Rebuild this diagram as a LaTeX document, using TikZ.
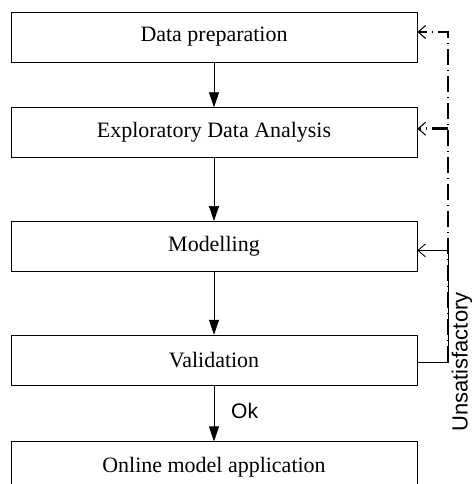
\documentclass[tikz,border=0pt]{standalone}
\usepackage{fontspec}
\setmainfont{Liberation Serif}
\newfontfamily\arialfont{Liberation Sans}
\usetikzlibrary{positioning,arrows.meta}

\tikzset{
	stage/.style={draw, thin, minimum width=8.12cm, minimum height=1cm, inner sep=0pt, font=\fontsize{12.5}{15}\selectfont},
	flow/.style={-{Triangle[length=3mm,width=2mm]}, thin},
	loopback/.style={-{Straight Barb[length=1.5mm,width=2.6mm,line width=0.5pt]}, thin},
	retry/.style={-{Straight Barb[length=1.5mm,width=2.6mm,line width=0.6pt]}, line width=1.6pt, dash pattern=on 0.32cm off 0.1cm on 0.02cm off 0.1cm}
}

\begin{document}
\begin{tikzpicture}
\useasboundingbox (0,0) rectangle (9.46,9.68);
\begin{scope}
\clip (0,0) rectangle (9.46,9.68);

	\node[stage] (prep) at (4.28,8.94) {Data preparation};
	\node[stage, below=0.9cm of prep] (eda) {Exploratory Data Analysis};
	\node[stage, below=1.26cm of eda] (model) {Modelling};
	\node[stage, below=1.26cm of model] (valid) {Validation};
	\node[stage, below=1.12cm of valid] (online) {Online model application};

\draw[flow] (prep) -- (eda);
\draw[flow] (eda) -- (model);
\draw[flow] (model) -- (valid);
\draw[flow] (valid) -- node[right=0.22cm, yshift=0.05cm, font=\arialfont\fontsize{12}{14}\selectfont]{Ok} (online);

	% feedback loops
	\coordinate (out) at ([yshift=-0.04cm]valid.east);
	\coordinate (bend) at (8.96,0|-out);
	\coordinate (edain) at ([yshift=0.08cm]eda.east);
	\coordinate (edajoin) at (8.96,0|-edain);
\draw[loopback] (out) -- (bend) |- ([yshift=-0.08cm]model.east);
\draw[retry] (bend) |- ([yshift=0.1cm]prep.east);
\draw[retry] (edajoin) -- (edain);

	\node[rotate=90, inner sep=0pt, font=\arialfont\fontsize{12.5}{14}\selectfont] (unsat) at (9.24,2.44) {Unsatisfactory};
\end{scope}
	\end{tikzpicture}
\end{document}
